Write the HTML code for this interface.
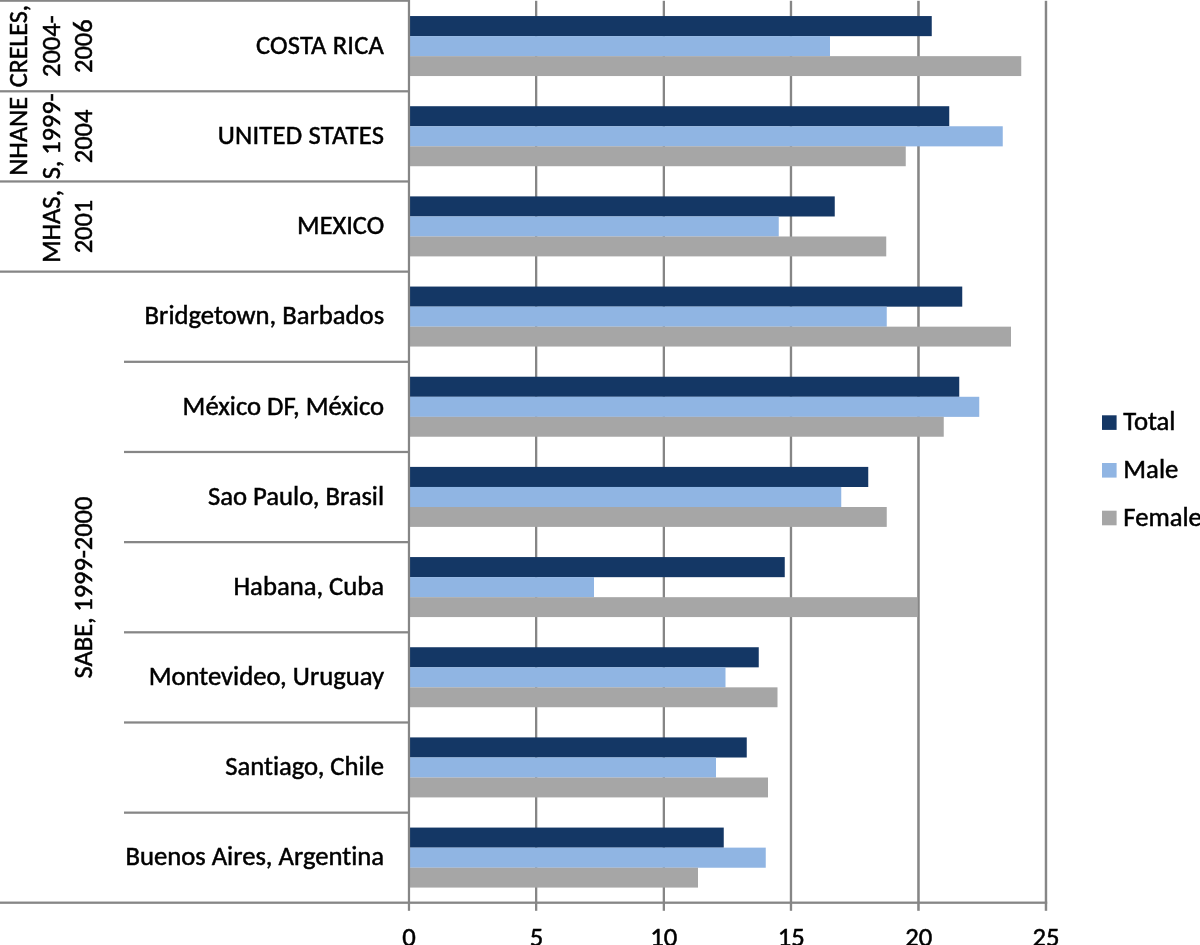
<!DOCTYPE html>
<html lang="en">
<head>
<meta charset="utf-8">
<title>Chart</title>
<style>
html,body{margin:0;padding:0;background:#fff;}
body{width:1200px;height:945px;overflow:hidden;}
svg{display:block;}
text{font-family:Carlito, Calibri, "Liberation Sans", sans-serif;font-size:26.67px;fill:#000;stroke:#000;stroke-width:0.5px;font-size-adjust:0.4775;font-variant-ligatures:none;font-feature-settings:"liga" 0,"clig" 0;}
</style>
</head>
<body>
<svg width="1200" height="945" viewBox="0 0 1200 945">
<rect x="0" y="0" width="1200" height="945" fill="#ffffff"/>
<g fill="#868686">
<rect x="535.00" y="0.8" width="2.30" height="910"/>
<rect x="662.70" y="0.8" width="2.30" height="910"/>
<rect x="789.80" y="0.8" width="2.35" height="910"/>
<rect x="917.20" y="0.8" width="2.55" height="910"/>
<rect x="1044.75" y="0.8" width="2.45" height="910"/>
</g>
<g>
<rect x="410" y="16.05" width="521.75" height="20.1" fill="#143765"/>
<rect x="410" y="36.10" width="420.00" height="20.1" fill="#90b5e3"/>
<rect x="410" y="56.15" width="611.25" height="19.9" fill="#a6a6a6"/>
<rect x="410" y="106.22" width="539.25" height="20.1" fill="#143765"/>
<rect x="410" y="126.27" width="592.75" height="20.1" fill="#90b5e3"/>
<rect x="410" y="146.32" width="495.75" height="19.9" fill="#a6a6a6"/>
<rect x="410" y="196.39" width="424.75" height="20.1" fill="#143765"/>
<rect x="410" y="216.44" width="368.75" height="20.1" fill="#90b5e3"/>
<rect x="410" y="236.49" width="476.25" height="19.9" fill="#a6a6a6"/>
<rect x="410" y="286.56" width="552.25" height="20.1" fill="#143765"/>
<rect x="410" y="306.61" width="476.75" height="20.1" fill="#90b5e3"/>
<rect x="410" y="326.66" width="601.00" height="19.9" fill="#a6a6a6"/>
<rect x="410" y="376.73" width="549.25" height="20.1" fill="#143765"/>
<rect x="410" y="396.78" width="569.25" height="20.1" fill="#90b5e3"/>
<rect x="410" y="416.83" width="533.75" height="19.9" fill="#a6a6a6"/>
<rect x="410" y="466.90" width="458.25" height="20.1" fill="#143765"/>
<rect x="410" y="486.95" width="431.25" height="20.1" fill="#90b5e3"/>
<rect x="410" y="507.00" width="476.75" height="19.9" fill="#a6a6a6"/>
<rect x="410" y="557.07" width="374.75" height="20.1" fill="#143765"/>
<rect x="410" y="577.12" width="184.00" height="20.1" fill="#90b5e3"/>
<rect x="410" y="597.17" width="507.40" height="19.9" fill="#a6a6a6"/>
<rect x="410" y="647.24" width="348.75" height="20.1" fill="#143765"/>
<rect x="410" y="667.29" width="315.50" height="20.1" fill="#90b5e3"/>
<rect x="410" y="687.34" width="367.50" height="19.9" fill="#a6a6a6"/>
<rect x="410" y="737.41" width="336.75" height="20.1" fill="#143765"/>
<rect x="410" y="757.46" width="306.00" height="20.1" fill="#90b5e3"/>
<rect x="410" y="777.51" width="358.00" height="19.9" fill="#a6a6a6"/>
<rect x="410" y="827.58" width="313.75" height="20.1" fill="#143765"/>
<rect x="410" y="847.63" width="355.75" height="20.1" fill="#90b5e3"/>
<rect x="410" y="867.68" width="288.00" height="19.9" fill="#a6a6a6"/>
</g>
<g fill="#868686">
<rect x="407.85" y="0" width="2.25" height="910.8"/>
<rect x="0" y="901.55" width="1047.2" height="2.3"/>
<rect x="0" y="0" width="410" height="1.8"/>
<rect x="0" y="90.17" width="409" height="2.25"/>
<rect x="0" y="180.34" width="409" height="2.25"/>
<rect x="0" y="270.51" width="409" height="2.25"/>
<rect x="124" y="360.68" width="285" height="2.25"/>
<rect x="124" y="450.85" width="285" height="2.25"/>
<rect x="124" y="541.02" width="285" height="2.25"/>
<rect x="124" y="631.19" width="285" height="2.25"/>
<rect x="124" y="721.36" width="285" height="2.25"/>
<rect x="124" y="811.53" width="285" height="2.25"/>
</g>
<g text-anchor="end">
<text x="384.1" y="53.9" letter-spacing="0.2" textLength="128.1" lengthAdjust="spacingAndGlyphs">COSTA RICA</text>
<text x="384.1" y="144.1" letter-spacing="0.2" textLength="166.4" lengthAdjust="spacingAndGlyphs">UNITED STATES</text>
<text x="384.1" y="234.2" textLength="87.0" lengthAdjust="spacingAndGlyphs">MEXICO</text>
<text x="384.1" y="324.4" textLength="239.5" lengthAdjust="spacingAndGlyphs">Bridgetown, Barbados</text>
<text x="384.1" y="414.6" textLength="201.5" lengthAdjust="spacingAndGlyphs">México DF, México</text>
<text x="384.1" y="504.8" textLength="176.1" lengthAdjust="spacingAndGlyphs">Sao Paulo, Brasil</text>
<text x="384.1" y="594.9" textLength="150.6" lengthAdjust="spacingAndGlyphs">Habana, Cuba</text>
<text x="384.1" y="685.1" textLength="235.4" lengthAdjust="spacingAndGlyphs">Montevideo, Uruguay</text>
<text x="384.1" y="775.3" textLength="158.9" lengthAdjust="spacingAndGlyphs">Santiago, Chile</text>
<text x="384.1" y="865.4" textLength="258.7" lengthAdjust="spacingAndGlyphs">Buenos Aires, Argentina</text>
</g>
<g text-anchor="middle">
<text x="409.0" y="945.8" textLength="13.5" lengthAdjust="spacingAndGlyphs">0</text>
<text x="536.4" y="945.8" textLength="13.5" lengthAdjust="spacingAndGlyphs">5</text>
<text x="663.8" y="945.8" textLength="27.0" lengthAdjust="spacingAndGlyphs">10</text>
<text x="791.3" y="945.8" textLength="27.0" lengthAdjust="spacingAndGlyphs">15</text>
<text x="918.7" y="945.8" textLength="27.0" lengthAdjust="spacingAndGlyphs">20</text>
<text x="1046.1" y="945.8" textLength="27.0" lengthAdjust="spacingAndGlyphs">25</text>
</g>
<g>
<text text-anchor="middle" letter-spacing="-0.15" transform="translate(26.8 46.2) rotate(-90)" textLength="82.3" lengthAdjust="spacingAndGlyphs">CRELES,</text>
<text text-anchor="middle" letter-spacing="-0.15" transform="translate(59.8 46.2) rotate(-90)" textLength="61.5" lengthAdjust="spacingAndGlyphs">2004-</text>
<text text-anchor="middle" letter-spacing="-0.15" transform="translate(91.9 46.2) rotate(-90)" textLength="53.5" lengthAdjust="spacingAndGlyphs">2006</text>
<text text-anchor="middle" letter-spacing="-0.15" transform="translate(26.8 136.4) rotate(-90)" textLength="78.7" lengthAdjust="spacingAndGlyphs">NHANE</text>
<text text-anchor="middle" letter-spacing="-0.15" transform="translate(59.8 136.4) rotate(-90)" textLength="85.9" lengthAdjust="spacingAndGlyphs">S, 1999-</text>
<text text-anchor="middle" letter-spacing="-0.15" transform="translate(91.9 136.4) rotate(-90)" textLength="53.5" lengthAdjust="spacingAndGlyphs">2004</text>
<text text-anchor="middle" letter-spacing="-0.15" transform="translate(59.8 226.6) rotate(-90)" textLength="73.0" lengthAdjust="spacingAndGlyphs">MHAS,</text>
<text text-anchor="middle" letter-spacing="-0.15" transform="translate(92.3 226.6) rotate(-90)" textLength="53.5" lengthAdjust="spacingAndGlyphs">2001</text>
<text text-anchor="middle" letter-spacing="-0.15" transform="translate(92.2 587.6) rotate(-90)" textLength="181.7" lengthAdjust="spacingAndGlyphs">SABE, 1999-2000</text>
</g>
<g>
<rect x="1102" y="415.3" width="14.6" height="14.6" fill="#143765"/>
<text x="1123.3" y="430.4" textLength="52.2" lengthAdjust="spacingAndGlyphs">Total</text>
<rect x="1102" y="463.0" width="14.6" height="14.6" fill="#90b5e3"/>
<text x="1123.3" y="478.1" textLength="55.0" lengthAdjust="spacingAndGlyphs">Male</text>
<rect x="1102" y="510.7" width="14.6" height="14.6" fill="#a6a6a6"/>
<text x="1123.3" y="525.8" textLength="78.6" lengthAdjust="spacingAndGlyphs">Female</text>
</g>
</svg>
</body>
</html>
